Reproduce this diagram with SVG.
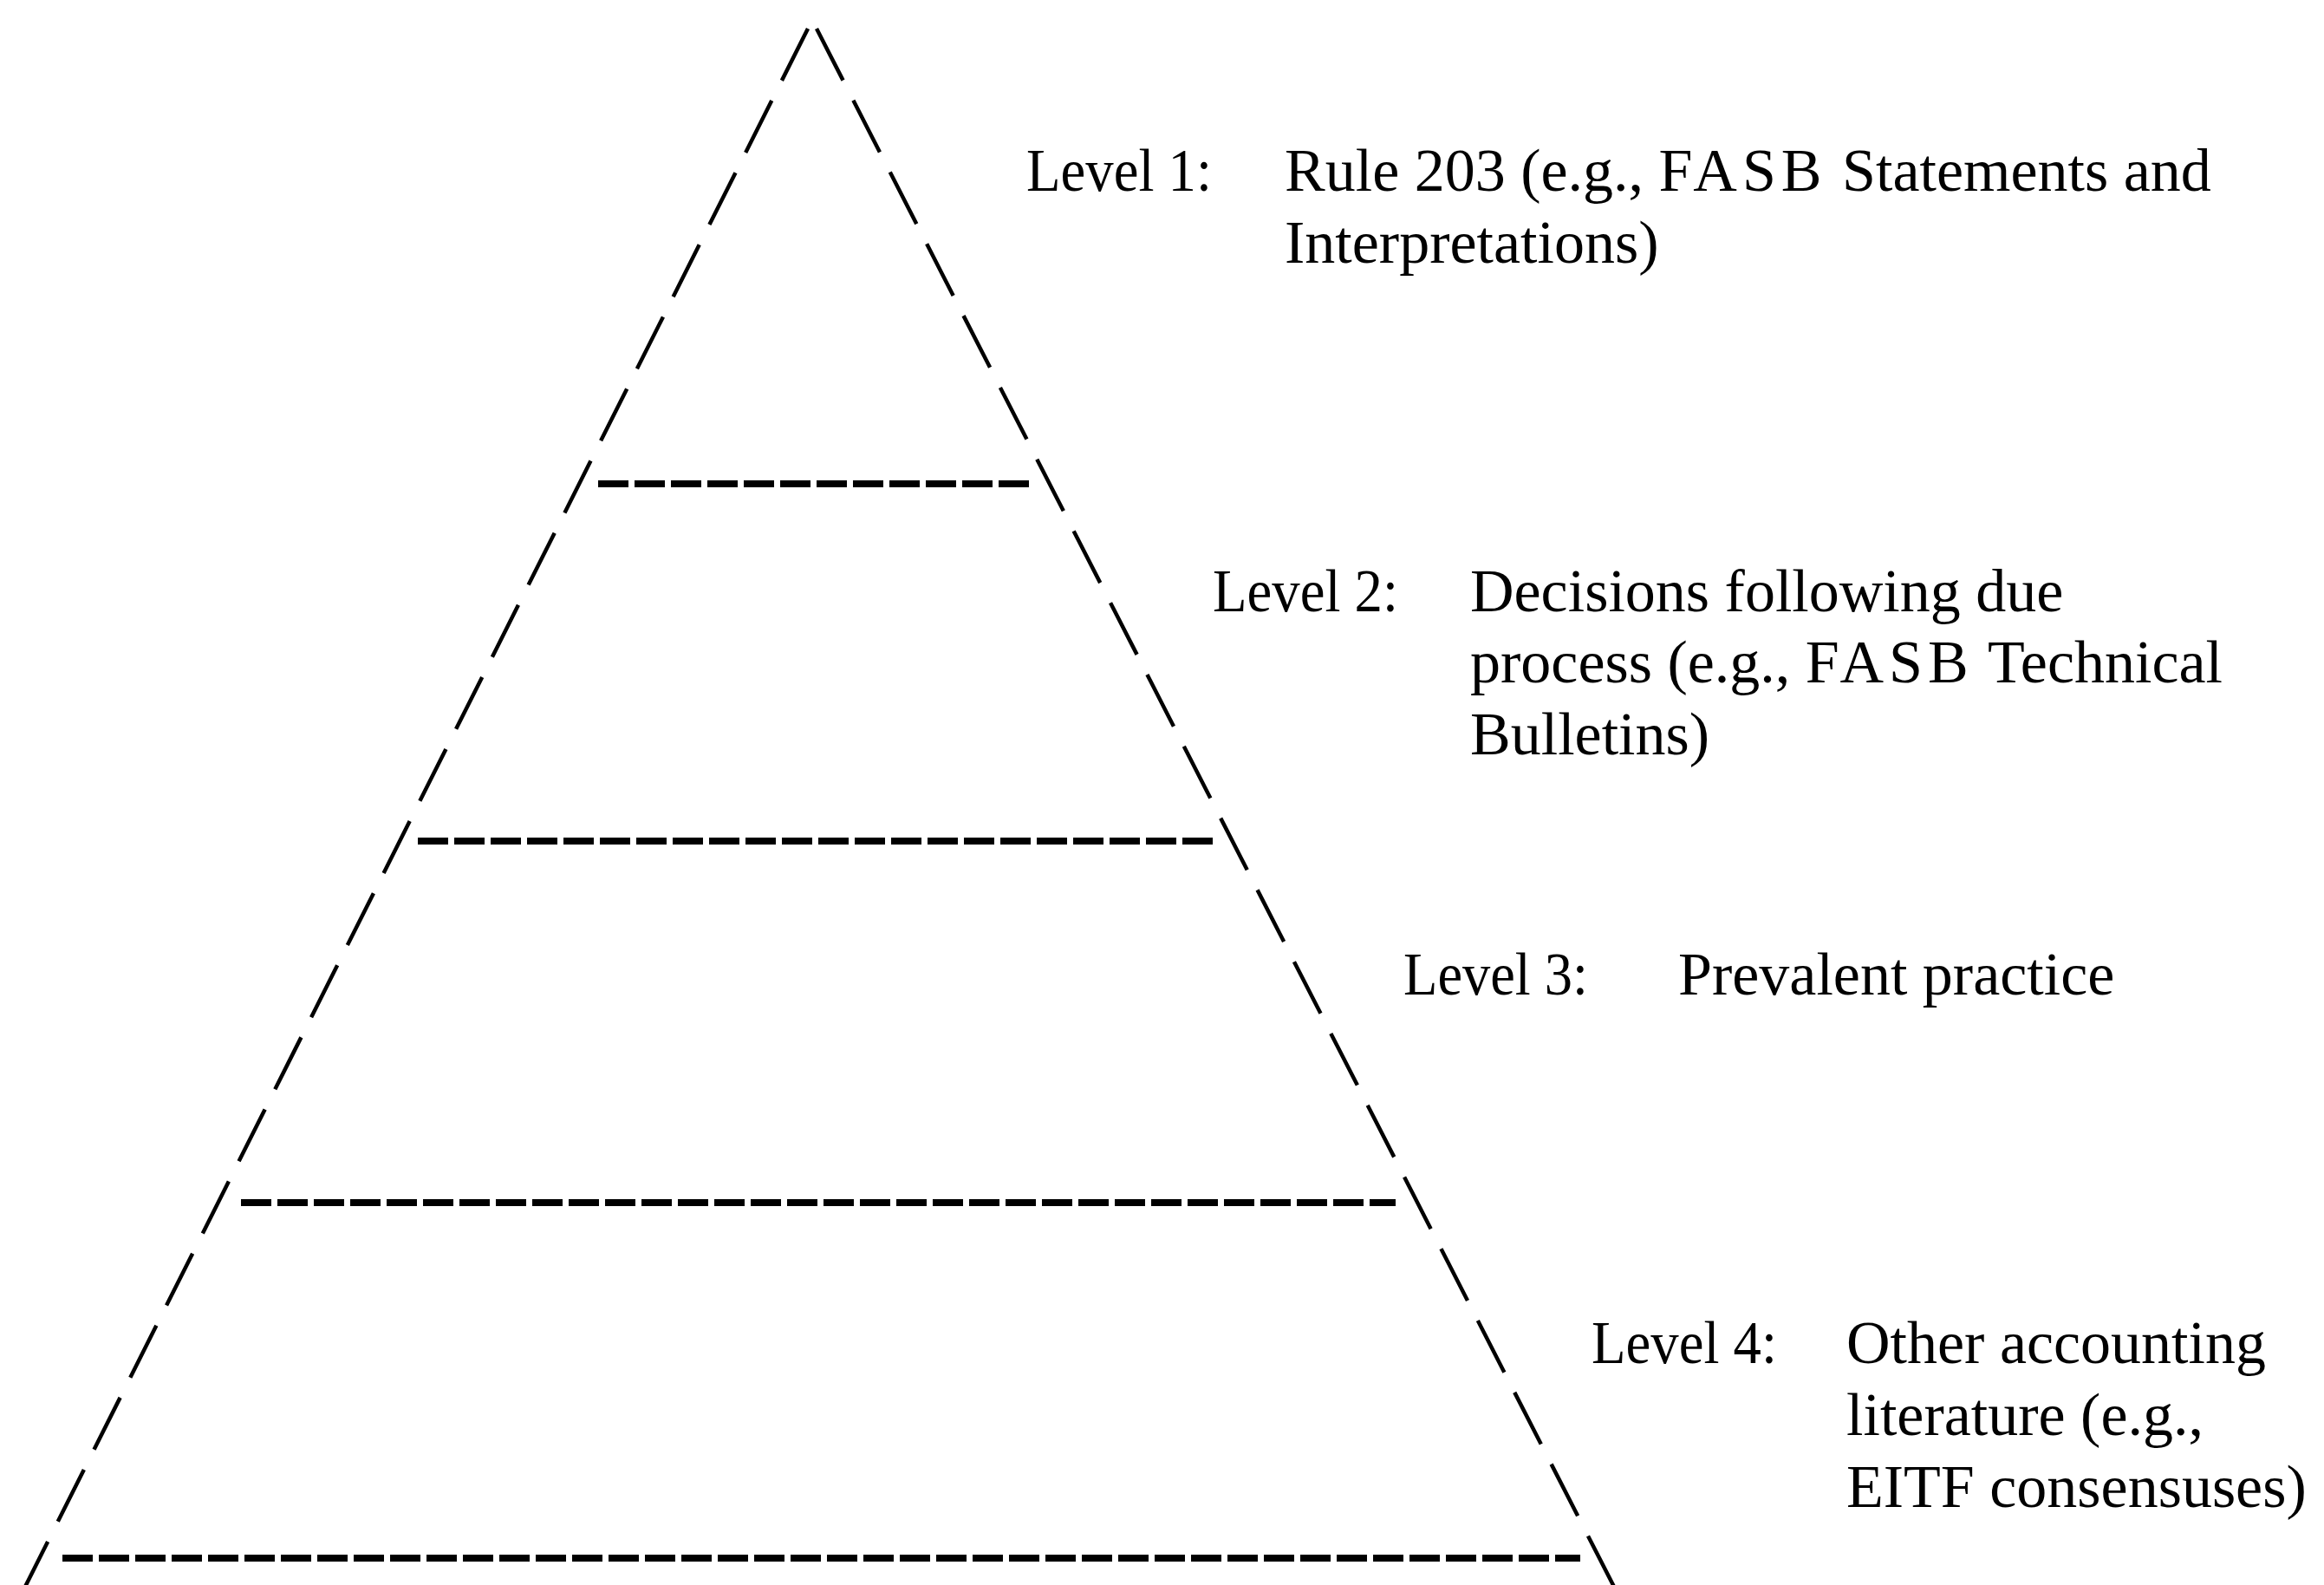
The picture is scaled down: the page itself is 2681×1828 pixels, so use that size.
<svg xmlns="http://www.w3.org/2000/svg" width="2681" height="1828" viewBox="0 0 2681 1828">
  <style>
    .slant { stroke: #000; stroke-width: 4.5; fill: none; stroke-dasharray: 67 26; }
    .tier { stroke: #000; stroke-width: 8; fill: none; stroke-dasharray: 35 7; }
    .lbl { font-family: "Liberation Serif", "Times New Roman", serif; font-size: 70px; fill: #000; }
    .sp { letter-spacing: 6px; }
  </style>
  <rect width="2681" height="1828" fill="#fff"/>
  <g id="pyramid">
    <line class="slant" x1="932" y1="33" x2="28" y2="1832"/>
    <line class="slant" x1="942" y1="33" x2="1863" y2="1832"/>
  </g>
  <g id="tier-lines">
    <line class="tier" x1="690" y1="558" x2="1192" y2="558"/>
    <line class="tier" x1="482" y1="970" x2="1400" y2="970"/>
    <line class="tier" x1="278" y1="1387" x2="1610" y2="1387"/>
    <line class="tier" x1="72" y1="1797" x2="1823" y2="1797"/>
  </g>
  <g id="level1">
    <text class="lbl" x="1184" y="220" textLength="214" lengthAdjust="spacingAndGlyphs">Level 1:</text>
    <text class="lbl" x="1482" y="220">Rule 203 (e.g., <tspan class="sp">FASB</tspan> Statements and</text>
    <text class="lbl" x="1482" y="303">Interpretations)</text>
  </g>
  <g id="level2">
    <text class="lbl" x="1399" y="705" textLength="214" lengthAdjust="spacingAndGlyphs">Level 2:</text>
    <text class="lbl" x="1696" y="705">Decisions following due</text>
    <text class="lbl" x="1696" y="787">process (e.g., <tspan class="sp">FASB</tspan> Technical</text>
    <text class="lbl" x="1696" y="870">Bulletins)</text>
  </g>
  <g id="level3">
    <text class="lbl" x="1619" y="1147" textLength="213" lengthAdjust="spacingAndGlyphs">Level 3:</text>
    <text class="lbl" x="1936" y="1147">Prevalent practice</text>
  </g>
  <g id="level4">
    <text class="lbl" x="1836" y="1572" textLength="214" lengthAdjust="spacingAndGlyphs">Level 4:</text>
    <text class="lbl" x="2130" y="1572">Other accounting</text>
    <text class="lbl" x="2130" y="1655">literature (e.g.,</text>
    <text class="lbl" x="2130" y="1738">EITF consensuses)</text>
  </g>
</svg>
